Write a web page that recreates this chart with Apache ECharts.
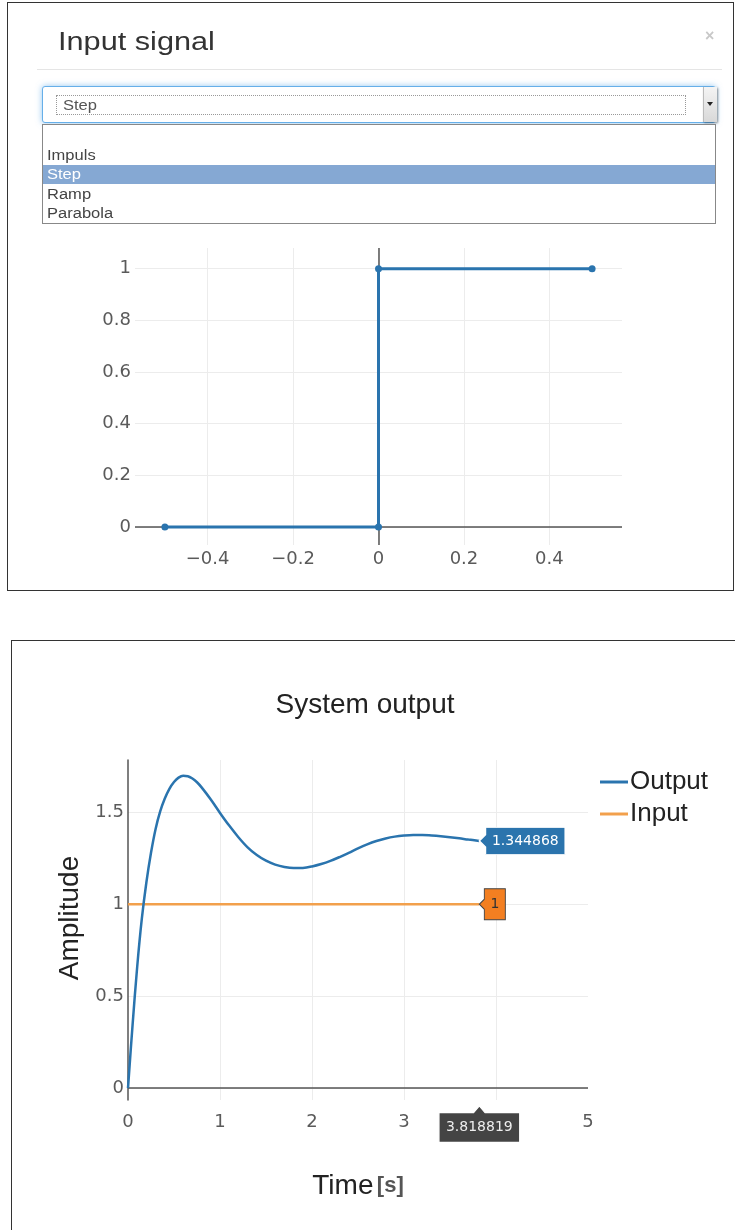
<!DOCTYPE html>
<html>
<head>
<meta charset="utf-8">
<script src="https://cdn.jsdelivr.net/npm/echarts@6/dist/echarts.min.js"></script>
<style>
  html, body { margin:0; padding:0; background:#fff; width:735px; height:1230px; overflow:hidden; }
  .panel { position:absolute; border:1px solid #333; box-sizing:border-box; }
  #chart { position:absolute; left:0; top:0; width:735px; height:1230px; }
  .ui { position:absolute; font-family:"Liberation Sans", Arial, sans-serif; }
  .wide { display:inline-block; transform:scaleX(1.18); transform-origin:0 50%; white-space:nowrap; }
  #title1 { left:58px; top:26px; font-size:26px; color:#333; }
  #close { left:705px; top:27px; font-size:16px; color:#c8c8c8; font-weight:bold; }
  #sep { left:37px; top:69px; width:685px; height:1px; background:#e5e5e5; }
  #sel { left:42px; top:86px; width:674px; height:37px; box-sizing:border-box; border:1px solid #66afe9; border-radius:3px;
         box-shadow: 0 0 6px rgba(102,175,233,0.7); background:#fff; }
  #focus { left:13px; top:8px; width:630px; height:20px; box-sizing:border-box; border:1px dotted #999; font-size:14px; color:#555; line-height:18px; padding-left:6px; }
  #btn { left:660px; top:0px; width:13px; height:35px; background:linear-gradient(#f4f4f4,#d8d8d8); border-left:1px solid #bbb; box-shadow:1px 1px 2px rgba(0,0,0,0.4); }
  #btn span { position:absolute; left:3px; top:15px; width:0; height:0; border-left:3px solid transparent; border-right:3px solid transparent; border-top:4px solid #222; }
  #list { left:42px; top:124px; width:674px; height:100px; box-sizing:border-box; border:1px solid #888; background:#fff; }
  .opt { position:absolute; left:0; width:672px; height:19px; font-size:14px; color:#444; line-height:19px; padding-left:4px; box-sizing:border-box; }
  .opt.sel { background:#85a8d3; color:#fff; }
</style>
</head>
<body>
<div class="panel" style="left:7px; top:2px; width:727px; height:589px;"></div>
<div class="panel" style="left:11px; top:640px; width:740px; height:620px;"></div>
<div id="chart"></div>
<div class="ui" id="title1"><span class="wide">Input signal</span></div>
<div class="ui" id="close">×</div>
<div class="ui" id="sep"></div>
<div class="ui" id="sel"><div class="ui" id="focus"><span class="wide">Step</span></div><div class="ui" id="btn"><span></span></div></div>
<div class="ui" id="list">
  <div class="opt" style="top:21px;"><span class="wide">Impuls</span></div>
  <div class="opt sel" style="top:40px;"><span class="wide">Step</span></div>
  <div class="opt" style="top:60px;"><span class="wide">Ramp</span></div>
  <div class="opt" style="top:79px;"><span class="wide">Parabola</span></div>
</div>
<script>
// ---- Data: input signal preview (Step) ----
const stepT = [-0.5, 0, 0, 0.5];
const stepV = [0, 0, 1, 1];

// ---- Data: system output ----
const timeS = [0, 0.05, 0.10, 0.15, 0.20, 0.25, 0.30, 0.35, 0.40, 0.45, 0.50, 0.55, 0.60, 0.65, 0.70, 0.75, 0.80, 0.90,
  1.00, 1.10, 1.20, 1.30, 1.40, 1.50, 1.60, 1.70, 1.80, 1.90, 2.00, 2.10, 2.20, 2.30, 2.40, 2.50, 2.60, 2.70, 2.80, 2.90,
  3.00, 3.10, 3.20, 3.30, 3.40, 3.50, 3.60, 3.70, 3.818819];
const outputV = [0, 0.345, 0.66, 0.92, 1.12, 1.28, 1.41, 1.505, 1.575, 1.628, 1.665, 1.689, 1.699, 1.697, 1.684, 1.664, 1.636, 1.57,
  1.497, 1.428, 1.365, 1.31, 1.268, 1.237, 1.216, 1.203, 1.197, 1.198, 1.206, 1.219, 1.236, 1.257, 1.28, 1.304, 1.326, 1.344, 1.358, 1.368,
  1.374, 1.377, 1.377, 1.374, 1.37, 1.365, 1.359, 1.352, 1.344868];
const inputT = [0, 3.818819];
const inputV = [1, 1];

const seriesNames = ['Output', 'Input'];

const BLUE = '#2a74ae';
const ORANGE = '#f2a04c';
const TICK = { color:'#5a5a5a', fontFamily:'DejaVu Sans', fontSize:18 };
const GRIDC = '#ececec';
const minus = v => String(v).replace('-', '\u2212');

const zip = (a, b) => a.map((x, i) => [x, b[i]]);
const tLast = timeS[timeS.length - 1];
const oLast = outputV[outputV.length - 1];
const iLast = inputV[inputV.length - 1];
const yMin2 = -0.065;

const chart = echarts.init(document.getElementById('chart'), null, { renderer:'canvas' });
chart.setOption({
  animation: false,
  title: {
    text: 'System output', left: 360, top: 686, textAlign: 'center',
    textStyle: { fontFamily:'Liberation Sans', fontSize:28, fontWeight:'normal', color:'#222' }
  },
  legend: {
    data: seriesNames, orient:'vertical', left: 595, top: 764, itemGap: 6,
    icon: 'rect', itemWidth: 28, itemHeight: 3,
    textStyle: { fontFamily:'Liberation Sans', fontSize:26, color:'#222', padding:[0,0,0,-3] }
  },
  grid: [
    { left:135, right:113, top:248, bottom:685 },
    { left:128, width:460, top:760, height:340 }
  ],
  xAxis: [
    { gridIndex:0, type:'value', min:-0.57, max:0.57, splitNumber:5,
      axisLine:{show:false}, axisTick:{show:false},
      axisLabel:{ ...TICK, margin:5, showMinLabel:false, showMaxLabel:false, formatter: minus },
      splitLine:{ show:true, showMinLine:false, showMaxLine:false, lineStyle:{ color:GRIDC } } },
    { gridIndex:1, type:'value', min:0, max:5, interval:1,
      axisLine:{show:false}, axisTick:{show:false},
      axisLabel:{ ...TICK, margin:13 },
      splitLine:{ show:true, showMinLine:false, showMaxLine:false, lineStyle:{ color:GRIDC } },
      name:'{a|Time} {b|[s]}', nameLocation:'middle', nameGap:72,
      nameTextStyle:{ rich:{ a:{ fontFamily:'Liberation Sans', fontSize:28, color:'#222' },
                             b:{ fontFamily:'Liberation Sans', fontSize:22, fontWeight:'bold', color:'#555' } } } }
  ],
  yAxis: [
    { gridIndex:0, type:'value', min:-0.07, max:1.08, splitNumber:6,
      axisLine:{show:false}, axisTick:{show:false},
      axisLabel:{ ...TICK, margin:4, showMinLabel:false, showMaxLabel:false, formatter: minus },
      splitLine:{ show:true, showMinLine:false, showMaxLine:false, lineStyle:{ color:GRIDC } } },
    { gridIndex:1, type:'value', min:yMin2, max:1.785, splitNumber:4,
      axisLine:{ show:true, onZero:false, lineStyle:{ color:'#555', width:1.5 } }, axisTick:{show:false},
      axisLabel:{ ...TICK, margin:4, showMinLabel:false, showMaxLabel:false },
      splitLine:{ show:true, showMinLine:false, showMaxLine:false, lineStyle:{ color:GRIDC } },
      name:'Amplitude', nameLocation:'middle', nameGap:44,
      nameTextStyle:{ fontFamily:'Liberation Sans', fontSize:28, color:'#222', padding:[0,0,0,24] } }
  ],
  series: [
    { name:'zero1', type:'line', xAxisIndex:0, yAxisIndex:0, data:[], z:1, silent:true,
      markLine:{ silent:true, z:1, symbol:'none', label:{show:false}, lineStyle:{ color:'#555', width:1.5, type:'solid' },
                 data:[ { xAxis:0 }, { yAxis:0 } ] } },
    { name:'Step', type:'line', xAxisIndex:0, yAxisIndex:0, data: zip(stepT, stepV), z:3,
      symbol:'circle', symbolSize:7, showSymbol:true,
      lineStyle:{ color:BLUE, width:3 }, itemStyle:{ color:BLUE } },
    { name:'zero2', type:'line', xAxisIndex:1, yAxisIndex:1, data:[], z:1, silent:true,
      markLine:{ silent:true, z:1, symbol:'none', label:{show:false}, lineStyle:{ color:'#555', width:1.5, type:'solid' },
                 data:[ { yAxis:0 } ] } },
    { name:'Input', type:'line', xAxisIndex:1, yAxisIndex:1, data: zip(inputT, inputV), z:3,
      showSymbol:false, lineStyle:{ color:ORANGE, width:2.5 }, itemStyle:{ color:ORANGE },
      markPoint:{ silent:true, z:10, zlevel:1, data:[
        { coord:[tLast, iLast], value:iLast, symbol:'path://M0,15.5L5,10.5L5,0L26,0L26,31L5,31L5,20.5Z',
          symbolSize:[26,31], symbolOffset:['50%',0],
          itemStyle:{ color:'#f37f21', borderColor:'#444', borderWidth:1 },
          label:{ show:true, formatter:'{c}', color:'#333', fontFamily:'DejaVu Sans', fontSize:14, offset:[2.5,0] } }
      ] } },
    { name:'Output', type:'line', xAxisIndex:1, yAxisIndex:1, data: zip(timeS, outputV), z:4,
      showSymbol:false, smooth:0.35, lineStyle:{ color:BLUE, width:2.5 }, itemStyle:{ color:BLUE },
      markPoint:{ silent:true, z:10, zlevel:1, data:[
        { coord:[tLast, oLast], value:oLast, symbol:'path://M0,13.5L6,7.5L6,0L86,0L86,27L6,27L6,19.5Z',
          symbolSize:[86,27], symbolOffset:['50%',0],
          itemStyle:{ color:'#2b74ad', borderColor:'#fff', borderWidth:1 },
          label:{ show:true, formatter:'{c}', color:'#fff', fontFamily:'DejaVu Sans', fontSize:14, offset:[3,0] } },
        { coord:[tLast, yMin2], value:tLast, symbol:'path://M40.5,0L46.5,7L81,7L81,36L0,36L0,7L34.5,7Z',
          symbolSize:[81,36], symbolOffset:[0,24],
          itemStyle:{ color:'#444', borderColor:'#fff', borderWidth:1 },
          label:{ show:true, formatter:'{c}', color:'#eee', fontFamily:'DejaVu Sans', fontSize:14, offset:[0,3.5] } }
      ] } }
  ]
});
</script>
</body>
</html>
